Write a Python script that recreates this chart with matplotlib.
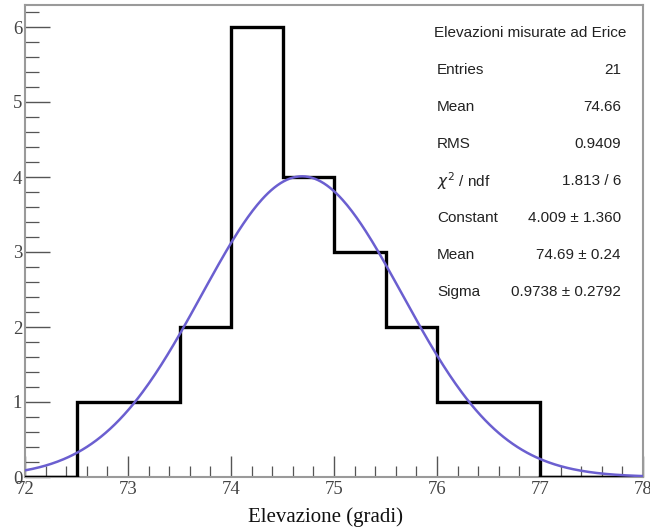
import numpy as np
import matplotlib.pyplot as plt
from matplotlib.ticker import MultipleLocator

# histogram data (bin width 0.5 deg)
bin_edges = [72.0, 72.5, 73.0, 73.5, 74.0, 74.5, 75.0, 75.5, 76.0, 76.5, 77.0, 77.5, 78.0]
counts = [0, 1, 1, 2, 6, 4, 3, 2, 1, 1, 0, 0]

# gaussian fit parameters shown in the stats box
fit_constant = 4.009
fit_mean = 74.69
fit_sigma = 0.9738

stats_title = "Elevazioni misurate ad Erice"
stats_labels = ["Entries", "Mean", "RMS", "$\\chi^2$ / ndf", "Constant", "Mean", "Sigma"]
stats_values = ["21", "74.66", "0.9409", "1.813 / 6",
                "4.009 \u00b1 1.360", "74.69 \u00b1 0.24", "0.9738 \u00b1 0.2792"]


def run():
    fig = plt.figure(figsize=(6.5, 5.31), dpi=100)
    ax = fig.add_axes([25 / 650, 1 - 477 / 531, 618 / 650, 472.5 / 531])

    ax.stairs(counts, bin_edges, color="black", linewidth=2.4, zorder=3,
              baseline=None)
    # zero-count bins are drawn on the baseline too
    ax.plot([bin_edges[0], bin_edges[1]], [0, 0], color="black", lw=2.4, zorder=3)
    ax.plot([bin_edges[10], bin_edges[-1]], [0, 0], color="black", lw=2.4, zorder=3)

    x = np.linspace(72, 78, 400)
    y = fit_constant * np.exp(-0.5 * ((x - fit_mean) / fit_sigma) ** 2)
    ax.plot(x, y, color="#6b5fd0", linewidth=1.8, zorder=4)

    ax.set_xlim(72, 78)
    ax.set_ylim(0, 6.3)
    ax.xaxis.set_major_locator(MultipleLocator(1))
    ax.xaxis.set_minor_locator(MultipleLocator(0.2))
    ax.yaxis.set_major_locator(MultipleLocator(1))
    ax.yaxis.set_minor_locator(MultipleLocator(0.2))
    ax.tick_params(which="both", direction="in", color="#555555",
                   labelcolor="#444444", top=False, right=False)
    ax.tick_params(which="major", length=15, width=1.0, labelsize=13.5, pad=3)
    ax.tick_params(which="minor", length=8, width=0.9)
    ax.tick_params(axis="y", which="major", length=18, pad=2)
    ax.tick_params(axis="y", which="minor", length=10)
    for lab in ax.get_xticklabels() + ax.get_yticklabels():
        lab.set_family("Liberation Serif")
    for s in ax.spines.values():
        s.set_color("#9a9a9a")
        s.set_linewidth(1.5)

    fig.text(325 / 650, 1 - 517 / 531, "Elevazione (gradi)", ha="center",
             va="center", fontsize=15, family="Liberation Serif", color="#111111")

    # stats box text
    fig.text(530 / 650, 1 - 33 / 531, stats_title, ha="center", va="center",
             fontsize=11, family="Liberation Sans", color="#222222")
    for i, (lab, val) in enumerate(zip(stats_labels, stats_values)):
        ypix = 70 + i * 37
        fig.text(437 / 650, 1 - ypix / 531, lab, ha="left", va="center",
                 fontsize=11, family="Liberation Sans", color="#222222")
        fig.text(621 / 650, 1 - ypix / 531, val, ha="right", va="center",
                 fontsize=11, family="Liberation Sans", color="#222222")

    fig.savefig("out.png", dpi=100)


if __name__ == "__main__":
    run()
